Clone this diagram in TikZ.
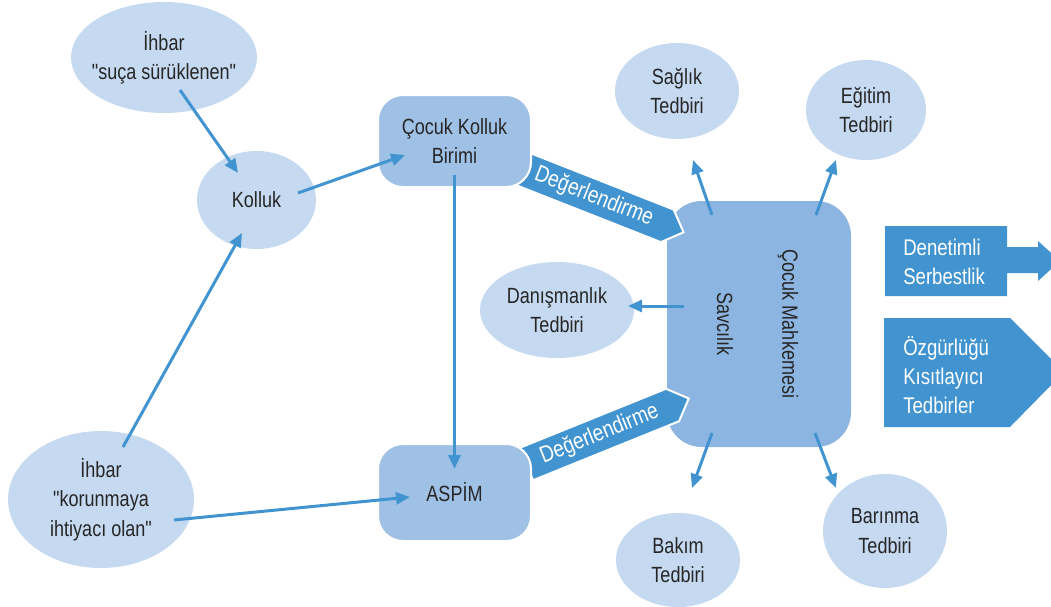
\documentclass[tikz,border=0pt]{standalone}
\usepackage{fontspec}
\setmainfont[FakeStretch=0.82]{Liberation Sans}
\newfontfamily\qfont[FakeStretch=0.82]{Liberation Sans}
\newcommand{\dq}{{\qfont"}}
\usetikzlibrary{shapes.geometric,shapes.symbols,arrows.meta}
\definecolor{ellc}{HTML}{C5D9F0}
\definecolor{boxc}{HTML}{9FC1E6}
\definecolor{mainc}{HTML}{8DB5E1}
\definecolor{dblue}{HTML}{4194D0}
\definecolor{txt}{HTML}{262626}
\begin{document}
\begin{tikzpicture}[x=0.75pt,y=-0.75pt,
  every node/.style={font=\fontsize{16.5}{22}\selectfont, text=txt, align=center},
  ellnode/.style={ellipse, fill=ellc, inner sep=0pt},
  box/.style={rectangle, rounded corners=18.75pt, fill=boxc, draw=white, line width=1.5pt, inner sep=0pt, minimum width=114.75pt},
  conn/.style={draw=dblue, line width=2.25pt, -{Triangle[length=10.5pt,width=9pt]}},
  evalarrow/.style={signal, signal to=east, signal pointer angle=90, fill=dblue, draw=white, line width=1.5pt, text=white, minimum width=131.25pt, minimum height=26.25pt, inner sep=0pt, font=\fontsize{17.5}{22}\selectfont},
  wtext/.style={text=white, align=left, anchor=west, inner sep=0pt, font=\fontsize{17}{21.5}\selectfont}
]
\useasboundingbox (0,0) rectangle (1051,607);
\clip (0,0) rectangle (1051,607);

% main box
\node[rectangle, rounded corners=26pt, fill=mainc, inner sep=0pt, minimum width=138pt, minimum height=184.5pt] (main) at (759,324) {};
\node[rotate=-90] (sav) at (725,324) {Savcılık};
\node[rotate=-90] (mah) at (788,324) {Çocuk Mahkemesi};

% evaluation arrows
\node[evalarrow, rotate=-21.5] (deg1) at (594,197) {Değerlendirme};
\node[evalarrow, rotate=22] (deg2) at (599.5,434.5) {Değerlendirme};

% boxes
\node[box, minimum height=69pt] (ckb) at (454.5,141) {Çocuk Kolluk\\Birimi};
\node[box, minimum height=72.75pt] (aspim) at (454.5,492.5) {ASPİM};

% ellipses
\node[ellnode, inner xsep=-15pt, minimum width=139.5pt, minimum height=83.25pt] (suca) at (164,57.5) {İhbar\\\dq suça sürüklenen\dq};
\node[ellnode, minimum width=89.25pt, minimum height=73.5pt] (kolluk) at (256.5,200) {Kolluk};
\node[ellnode, minimum width=139.5pt, minimum height=102.75pt] (korun) at (101,499.5) {İhbar\\\dq korunmaya\\ihtiyacı olan\dq};
\node[ellnode, minimum width=93pt, minimum height=72pt] (saglik) at (677,91) {Sağlık\\Tedbiri};
\node[ellnode, minimum width=90pt, minimum height=75pt] (egitim) at (866,110) {Eğitim\\Tedbiri};
\node[ellnode, minimum width=115.5pt, minimum height=72pt] (danis) at (557,310) {Danışmanlık\\Tedbiri};
\node[ellnode, minimum width=93pt, minimum height=70.5pt] (bakim) at (678,560) {Bakım\\Tedbiri};
\node[ellnode, minimum width=93pt, minimum height=85.5pt] (barin) at (885,531) {Barınma\\Tedbiri};

% connectors
\draw[conn] ([shift={(16,32.5)}]suca.center) -- ([shift={(-18.5,-27)}]kolluk.center);
\draw[conn] ([shift={(41.5,-7)}]kolluk.center) -- ([shift={(-49.5,14)}]ckb.center);
\draw[conn] ([shift={(22,-52.5)}]korun.center) -- ([shift={(-14.5,33)}]kolluk.center);
\draw[conn] ([shift={(73,20.5)}]korun.center) -- ([shift={(-44.5,4.5)}]aspim.center);
\draw[conn] ([shift={(0,34)}]ckb.center) -- ([shift={(0,-23.5)}]aspim.center);

\draw[conn] ([shift={(-47,-109)}]main.center) -- ([shift={(16,69)}]saglik.center);
\draw[conn] ([shift={(57,-109)}]main.center) -- ([shift={(-30,50)}]egitim.center);
\draw[conn] ([shift={(-75,-18)}]main.center) -- ([shift={(71,-4)}]danis.center);
\draw[conn] ([shift={(-47,109)}]main.center) -- ([shift={(14,-72)}]bakim.center);
\draw[conn] ([shift={(56,109)}]main.center) -- ([shift={(-49,-43)}]barin.center);

% right side
\fill[dblue] (885,226) -- (1007,226) -- (1007,247) -- (1038,247) -- (1038,241) -- (1060,261)
  -- (1038,281) -- (1038,273) -- (1007,273) -- (1007,296) -- (885,296) -- cycle;
\node[wtext] (den) at (903,262) {Denetimli\\Serbestlik};
\fill[dblue] (884,318) -- (1010,318) -- (1064,372) -- (1010,427) -- (884,427) -- cycle;
\node[wtext] (ozg) at (903,375) {Özgürlüğü\\Kısıtlayıcı\\Tedbirler};
\end{tikzpicture}
\end{document}
